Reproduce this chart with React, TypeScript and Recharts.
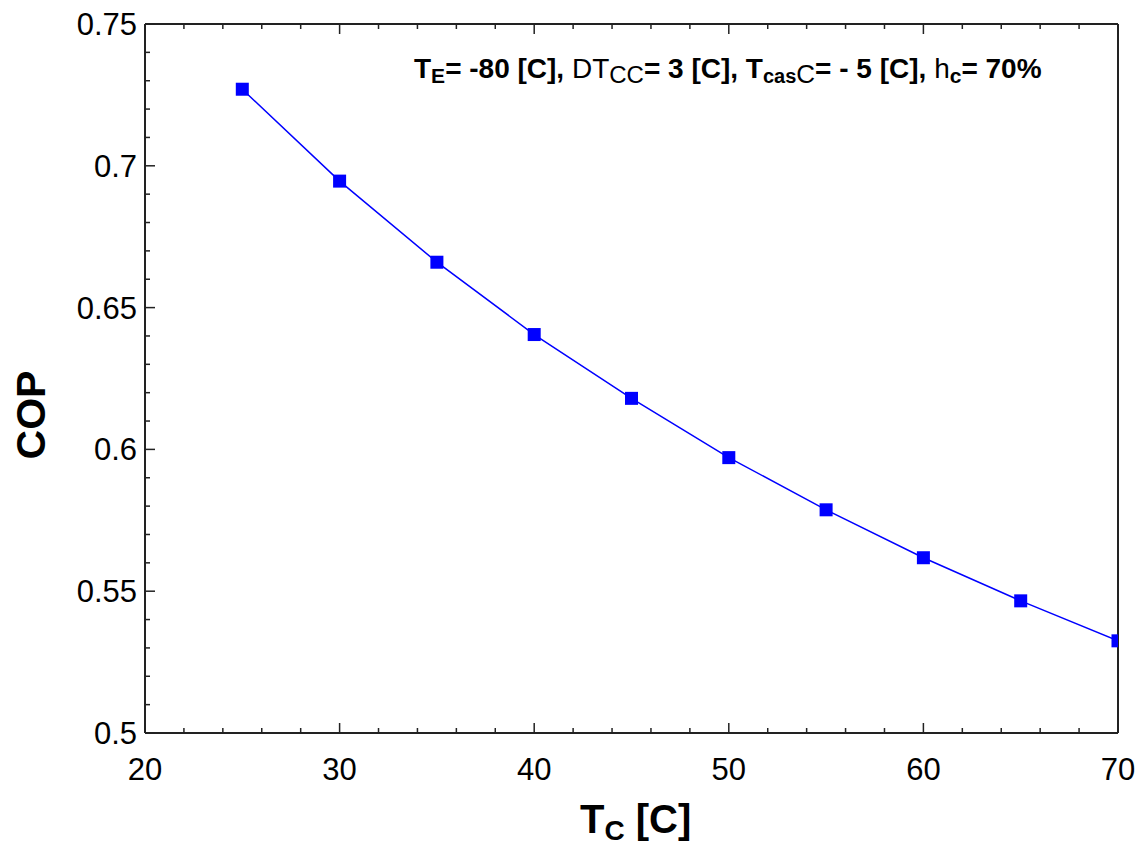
import React from 'react';
import { LineChart, Line, XAxis, YAxis, Customized } from 'recharts';

const tcValues = [25, 30, 35, 40, 45, 50, 55, 60, 65, 70];
const copValues = [0.727, 0.6946, 0.666, 0.6405, 0.618, 0.5971, 0.5787, 0.5618, 0.5466, 0.5325];

const xMajorTicks = [20, 30, 40, 50, 60, 70];
const xMinorStep = 2;
const yMajorTicks = [0.5, 0.55, 0.6, 0.65, 0.7, 0.75];
const yMinorStep = 0.01;
const yTickLabels = ['0.5', '0.55', '0.6', '0.65', '0.7', '0.75'];

const data = tcValues.map((tc, i) => ({ tc, cop: copValues[i] }));

const buildTicks = (majors: number[], step: number) => {
  const lo = majors[0];
  const hi = majors[majors.length - 1];
  const n = Math.round((hi - lo) / step);
  return Array.from({ length: n + 1 }, (_, i) => Math.round((lo + i * step) * 1000) / 1000);
};
const xTicks = buildTicks(xMajorTicks, xMinorStep);
const yTicks = buildTicks(yMajorTicks, yMinorStep);

const FONT = '"Liberation Sans", Arial, sans-serif';
const AXIS_COLOR = '#222';
const BLUE = '#0000ff';

const majorIndex = (v: number, majors: number[]) => majors.findIndex((m) => Math.abs(m - v) < 1e-9);

type Side = 'bottom' | 'top' | 'left' | 'right';

const makeTick = (side: Side, majors: number[], labels: string[] | null) => (props: any) => {
  const { x, y, payload } = props;
  const v = payload.value;
  const mi = majorIndex(v, majors);
  const len = mi >= 0 ? 10 : 5;
  let x2 = x;
  let y2 = y;
  if (side === 'bottom') y2 = y - len;
  if (side === 'top') y2 = y + len;
  if (side === 'left') x2 = x + len;
  if (side === 'right') x2 = x - len;
  let label = null;
  if (labels && mi >= 0) {
    if (side === 'bottom') {
      label = (
        <text x={x} y={y + 47} textAnchor="middle" fontSize={31} fontFamily={FONT} fill="#000">
          {labels[mi]}
        </text>
      );
    } else if (side === 'left') {
      label = (
        <text x={x - 8} y={y + 11} textAnchor="end" fontSize={31} fontFamily={FONT} fill="#000">
          {labels[mi]}
        </text>
      );
    }
  }
  return (
    <g>
      <line x1={x} y1={y} x2={x2} y2={y2} stroke={AXIS_COLOR} strokeWidth={1.5} />
      {label}
    </g>
  );
};

const SquareDot = (props: any) => {
  const { cx, cy } = props;
  if (cx == null || cy == null) return null;
  return <rect x={cx - 6.5} y={cy - 6.5} width={13} height={13} fill={BLUE} />;
};

const Titles = () => (
  <g fontFamily={FONT} fill="#000">
    <text x={580} y={833} fontSize={40} fontWeight="bold">
      T
      <tspan fontSize={28} dy={7}>C</tspan>
      <tspan dy={-7}> [C]</tspan>
    </text>
    <text
      x={0}
      y={0}
      fontSize={41}
      fontWeight="bold"
      textAnchor="middle"
      transform="translate(45, 415) rotate(-90)"
    >
      COP
    </text>
    <g transform="translate(414, 78) scale(1.0, 1)">
      <text x={0} y={0} fontSize={28} fontWeight="bold">
        T<tspan fontSize={21} dy={5}>E</tspan>
        <tspan dy={-5}>= -80 [C], </tspan>
        <tspan fontWeight="normal">DT</tspan>
        <tspan fontSize={24} fontWeight="normal" dy={5}>CC</tspan>
        <tspan dy={-5}>= 3 [C], T</tspan>
        <tspan fontSize={20} dy={5}>cas</tspan>
        <tspan fontSize={26} fontWeight="normal">C</tspan>
        <tspan dy={-5}>= - 5 [C], </tspan>
        <tspan fontWeight="normal">h</tspan>
        <tspan fontSize={21} dy={5}>c</tspan>
        <tspan dy={-5}>= 70%</tspan>
      </text>
    </g>
  </g>
);

export default function App() {
  const axisLine = { stroke: AXIS_COLOR, strokeWidth: 2 };
  return (
    <div style={{ position: 'absolute', left: 0, top: 0, background: '#fff' }}>
      <LineChart
        width={1145}
        height={846}
        data={data}
        margin={{ top: 23, right: 26, left: 144, bottom: 112 }}
      >
        <XAxis
          xAxisId="bottom"
          dataKey="tc"
          type="number"
          domain={[20, 70]}
          ticks={xTicks}
          interval={0}
          allowDataOverflow
          orientation="bottom"
          height={1}
          tickSize={0}
          tickMargin={0}
          axisLine={axisLine}
          tickLine={false}
          tick={makeTick('bottom', xMajorTicks, xMajorTicks.map(String))}
        />
        <XAxis
          xAxisId="top"
          dataKey="tc"
          type="number"
          domain={[20, 70]}
          ticks={xTicks}
          interval={0}
          allowDataOverflow
          orientation="top"
          height={1}
          tickSize={0}
          tickMargin={0}
          axisLine={axisLine}
          tickLine={false}
          tick={makeTick('top', xMajorTicks, null)}
        />
        <YAxis
          yAxisId="left"
          type="number"
          domain={[0.5, 0.75]}
          ticks={yTicks}
          interval={0}
          orientation="left"
          width={1}
          tickSize={0}
          tickMargin={0}
          axisLine={axisLine}
          tickLine={false}
          tick={makeTick('left', yMajorTicks, yTickLabels)}
        />
        <YAxis
          yAxisId="right"
          type="number"
          domain={[0.5, 0.75]}
          ticks={yTicks}
          interval={0}
          orientation="right"
          width={1}
          tickSize={0}
          tickMargin={0}
          axisLine={axisLine}
          tickLine={false}
          tick={makeTick('right', yMajorTicks, null)}
        />
        <Line
          xAxisId="bottom"
          yAxisId="left"
          type="linear"
          dataKey="cop"
          stroke={BLUE}
          strokeWidth={1.5}
          dot={<SquareDot />}
          activeDot={false}
          isAnimationActive={false}
        />
        <Customized component={Titles} />
      </LineChart>
    </div>
  );
}
